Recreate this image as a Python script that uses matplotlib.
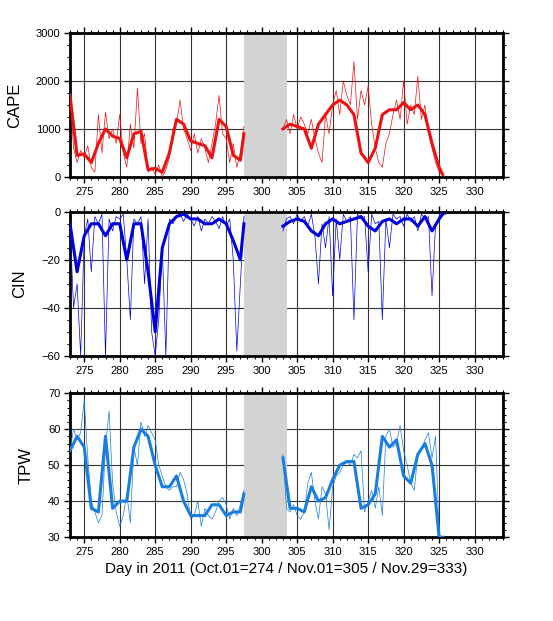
import matplotlib.pyplot as plt
import numpy as np
from matplotlib.ticker import MultipleLocator

plt.rcParams['font.family'] = ['Liberation Sans', 'DejaVu Sans']

# --- smoothed series (daily) ---
sm_day_a = [273, 274, 275, 276, 277, 278, 279, 280, 281, 282, 283, 284, 285, 286, 287, 288, 289,
            290, 291, 292, 293, 294, 295, 296, 297, 297.5]
sm_day_b = [303, 304, 305, 306, 307, 308, 309, 310, 311, 312, 313, 314, 315, 316, 317, 318, 319,
            320, 321, 322, 323, 324, 325, 325.5]

cape_sm_a = [1700, 450, 480, 300, 700, 1000, 850, 800, 400, 900, 950, 150, 180, 100, 500, 1200,
             1100, 750, 700, 650, 400, 1200, 1050, 450, 350, 900]
cape_sm_b = [1000, 1100, 1050, 1000, 600, 1100, 1300, 1500, 1600, 1500, 1300, 500, 300, 600,
             1300, 1400, 1400, 1550, 1400, 1500, 1300, 700, 200, 50]
cin_sm_a = [-5, -25, -10, -5, -5, -10, -5, -5, -20, -5, -5, -25, -50, -15, -5, -2, -1, -3, -3, -5,
            -5, -3, -5, -12, -20, -5]
cin_sm_b = [-6, -4, -3, -4, -8, -10, -5, -3, -5, -4, -3, -2, -6, -8, -4, -3, -5, -3, -3, -6, -2,
            -8, -3, -1]
tpw_sm_a = [54, 58, 55, 38, 37, 58, 38, 40, 40, 55, 60, 58, 50, 44, 44, 47, 40, 36, 36, 36, 39,
            39, 36, 37, 37, 42]
tpw_sm_b = [52, 38, 38, 37, 44, 40, 41, 46, 50, 51, 51, 38, 39, 42, 58, 55, 57, 47, 45, 53, 56,
            50, 30, 30]

# --- raw series (half-day steps starting at 273 and 303) ---
cape_raw_a = [1750, 600, 300, 550, 400, 650, 200, 100, 1300, 500, 1350, 800, 1000, 700, 1300, 500,
              200, 1100, 600, 1850, 700, 900, 100, 200, 50, 250, 0, 150, 400, 1000, 1100, 1600,
              1000, 800, 550, 900, 500, 800, 600, 300, 700, 1100, 1700, 900, 800, 300, 700, 200,
              500, 1050]
cape_raw_b = [1000, 1200, 900, 1300, 1000, 1250, 1100, 900, 1200, 800, 500, 300, 1300, 900, 1500,
              1800, 1300, 2000, 1700, 1500, 2400, 1200, 1800, 1500, 1900, 1100, 600, 300, 200, 700,
              900, 1300, 1600, 1200, 2000, 1100, 1500, 1300, 2100, 1200, 1500, 900, 600, 300, 100, 50]
cin_raw_a = [-5, -40, -30, -60, -10, -3, -25, -2, -5, -1, -60, -3, -8, -2, -3, -1, -20, -45, -3, -5,
             -2, -30, -3, -50, -60, -45, -15, -60, -3, -5, -2, -1, -4, -1, -3, -6, -2, -8, -3, -5,
             -2, -4, -7, -2, -6, -3, -20, -58, -30, -2]
cin_raw_b = [-8, -3, -2, -5, -1, -4, -2, -6, -1, -10, -30, -5, -15, -2, -35, -3, -20, -1, -4, -2,
             -45, -1, -3, -2, -25, -1, -5, -4, -45, -3, -15, -1, -3, -2, -6, -1, -4, -2, -8, -1,
             -3, -2, -35, -5, -2, -1, -1]
tpw_raw_a = [54, 60, 57, 59, 68, 52, 40, 37, 34, 36, 55, 65, 45, 37, 33, 36, 42, 34, 55, 50, 62, 58,
             61, 59, 57, 50, 47, 44, 43, 44, 44, 48, 46, 42, 35, 36, 40, 33, 38, 36, 35, 37, 40, 41,
             39, 35, 38, 36, 39, 43]
tpw_raw_b = [53, 38, 37, 39, 36, 35, 37, 45, 48, 40, 35, 44, 42, 32, 44, 47, 48, 50, 51, 50, 53, 52,
             54, 37, 40, 43, 38, 44, 36, 58, 60, 55, 56, 61, 54, 50, 45, 43, 53, 54, 57, 59, 52, 58, 31]

gap = (297.5, 303.5)

panels = [
    ('CAPE', cape_sm_a, cape_sm_b, cape_raw_a, cape_raw_b, '#ee1111', (0, 3000), 1000, 250),
    ('CIN', cin_sm_a, cin_sm_b, cin_raw_a, cin_raw_b, '#0000dd', (-60, 0), 20, 5),
    ('TPW', tpw_sm_a, tpw_sm_b, tpw_raw_a, tpw_raw_b, '#1a7de0', (30, 70), 10, 2),
]
bottoms = [0.715, 0.427, 0.135]

fig = plt.figure(figsize=(5.53, 6.21), dpi=100)
for (name, sa, sb, ra, rb, col, ylim, major, minor), b in zip(panels, bottoms):
    ax = fig.add_axes([0.1266, b, 0.783, 0.232])
    ax.axvspan(*gap, color='#d3d3d3', zorder=1, lw=0)
    ax.grid(True, color='#333333', lw=0.8, zorder=2)
    ax.set_axisbelow(True)
    da = 273 + 0.5 * np.arange(len(ra))
    db = 303 + 0.5 * np.arange(len(rb))
    ax.plot(da, ra, color=col, lw=0.5, zorder=3)
    ax.plot(db, rb, color=col, lw=0.5, zorder=3)
    ax.plot(sm_day_a, sa, color=col, lw=2.2, zorder=4, solid_joinstyle='round')
    ax.plot(sm_day_b, sb, color=col, lw=2.2, zorder=4, solid_joinstyle='round')
    ax.set_xlim(273, 334)
    ax.set_ylim(*ylim)
    ax.xaxis.set_major_locator(MultipleLocator(5))
    ax.xaxis.set_minor_locator(MultipleLocator(1))
    ax.yaxis.set_major_locator(MultipleLocator(major))
    ax.yaxis.set_minor_locator(MultipleLocator(minor))
    ax.tick_params(which='both', top=True, right=True, direction='out', labelsize=8)
    ax.tick_params(which='major', length=4, width=1, pad=3)
    ax.tick_params(which='minor', length=2, width=0.8)
    for s in ax.spines.values():
        s.set_linewidth(2)
    ax.set_ylabel(name, fontsize=12, labelpad=10)
    if name == 'TPW':
        ax.set_xlabel('Day in 2011 (Oct.01=274 / Nov.01=305 / Nov.29=333)', fontsize=11)

fig.savefig('out.png', dpi=100)
